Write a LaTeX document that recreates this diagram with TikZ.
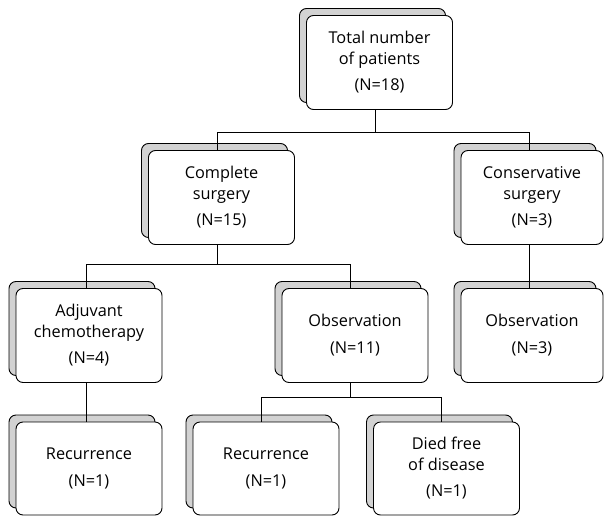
\documentclass[tikz,border=0pt]{standalone}
\usepackage{fontspec}
\setmainfont{Open Sans}
\usetikzlibrary{shadows}
\definecolor{shadowgray}{HTML}{D2D2D2}
\begin{document}
\begin{tikzpicture}[x=1pt,y=-1pt,
  pbox/.style={draw=black, line width=0.9pt, fill=white, rounded corners=7pt,
    minimum width=146pt, minimum height=94pt, inner sep=0pt, align=center,
    font=\fontsize{16.3}{21}\selectfont,
    copy shadow={shadow xshift=-7pt, shadow yshift=7pt, fill=shadowgray, draw=black, line width=0.9pt}},
  conn/.style={draw=black, line width=0.9pt}]
\useasboundingbox (0,0) rectangle (604,516);
\node[pbox] (tot) at (379.5,62.5) {Total number\\of patients\\[5pt](N=18)};
\node[pbox] (comp) at (221.5,197.5) {Complete\\surgery\\[5pt](N=15)};
\node[pbox, minimum width=142pt] (cons) at (532,197.5) {Conservative\\surgery\\[5pt](N=3)};
\node[pbox] (adj) at (89,335.5) {Adjuvant\\chemotherapy\\[5pt](N=4)};
\node[pbox] (obs) at (355,335.5) {Observation\\[6pt](N=11)};
\node[pbox, minimum width=142pt] (obsr) at (532,335.5) {Observation\\[6pt](N=3)};
\node[pbox, minimum height=93pt] (rec1) at (89,468.5) {Recurrence\\[6pt](N=1)};
\node[pbox, minimum height=93pt] (rec2) at (266,468.5) {Recurrence\\[6pt](N=1)};
\node[pbox, minimum height=93pt] (died) at (446.5,468.5) {Died free\\of disease\\[5pt](N=1)};
\draw[conn] ([xshift=-4pt]tot.south) -- ++(0,22) -| ([xshift=-4pt]comp.north);
\draw[conn] ([xshift=-4pt]tot.south) -- ++(0,22) -| ([xshift=-3pt]cons.north);
\draw[conn] ([xshift=-3pt]cons.south) -- ([xshift=-3pt]obsr.north);
\draw[conn] ([xshift=-4pt]comp.south) -- ++(0,19) -| ([xshift=-3pt]adj.north);
\draw[conn] ([xshift=-4pt]comp.south) -- ++(0,19) -| ([xshift=-5pt]obs.north);
\draw[conn] ([xshift=-3pt]adj.south) -- ([xshift=-3pt]rec1.north);
\draw[conn] ([xshift=-5pt]obs.south) -- ++(0,14) -| ([xshift=-5pt]rec2.north);
\draw[conn] ([xshift=-5pt]obs.south) -- ++(0,14) -| ([xshift=-5pt]died.north);
\end{tikzpicture}
\end{document}
